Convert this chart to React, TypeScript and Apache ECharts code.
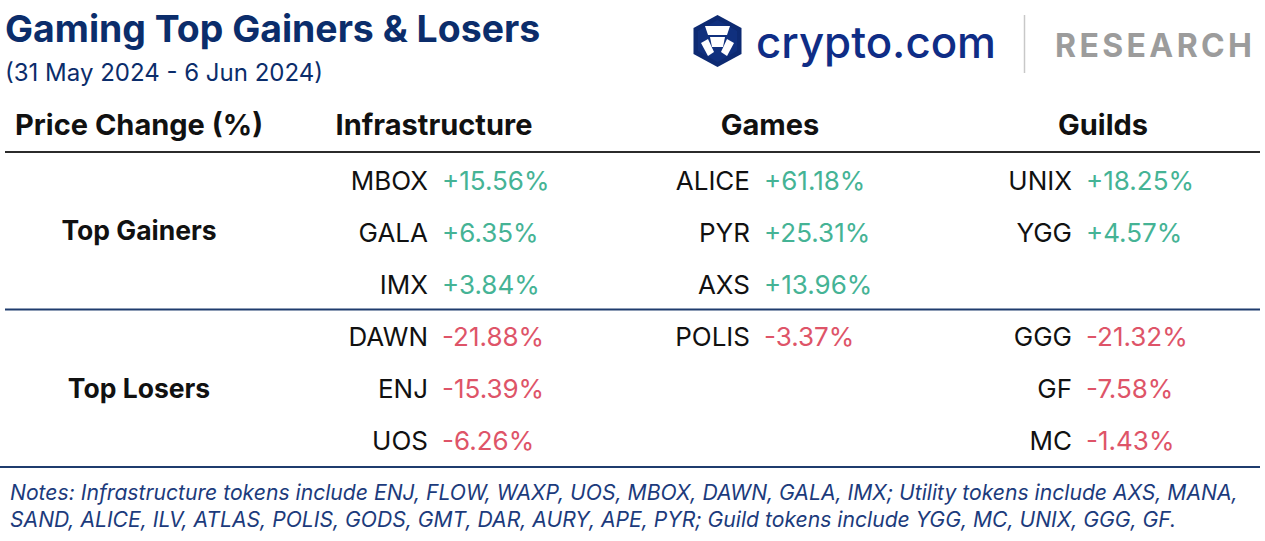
import React, { useEffect, useRef } from "react";
import * as echarts from "echarts";

// ---- data ----
const title = "Gaming Top Gainers & Losers";
const subtitle = "(31 May 2024 - 6 Jun 2024)";
const cornerHeader = "Price Change (%)";
const columns = ["Infrastructure", "Games", "Guilds"];
const groups = ["Top Gainers", "Top Losers"];
const gainerTickers = [
  ["MBOX", "GALA", "IMX"],
  ["ALICE", "PYR", "AXS"],
  ["UNIX", "YGG"],
];
const gainerValues = [
  [15.56, 6.35, 3.84],
  [61.18, 25.31, 13.96],
  [18.25, 4.57],
];
const loserTickers = [
  ["DAWN", "ENJ", "UOS"],
  ["POLIS"],
  ["GGG", "GF", "MC"],
];
const loserValues = [
  [-21.88, -15.39, -6.26],
  [-3.37],
  [-21.32, -7.58, -1.43],
];
const rowSlots = ["1", "2", "3", "4", "5", "6"];
const notes = [
  "Notes: Infrastructure tokens include ENJ, FLOW, WAXP, UOS, MBOX, DAWN, GALA, IMX; Utility tokens include AXS, MANA,",
  "SAND, ALICE, ILV, ATLAS, POLIS, GODS, GMT, DAR, AURY, APE, PYR; Guild tokens include YGG, MC, UNIX, GGG, GF.",
];
const brand = "crypto.com";
const research = "RESEARCH";

// ---- styles ----
const FONT = "Inter, 'Noto Sans', sans-serif";
const NAVY = "#0b2d6b";
const GREEN = "#45b395";
const RED = "#de5468";
const LINE_NAVY = "#1f3c6e";

function fmt(v: number) {
  return (v > 0 ? "+" : "") + v.toFixed(2) + "%";
}

// spread letters across a target width (letter-spacing substitute)
function spacedLetters(text: string, x0: number, x1: number, y: number, font: string, style: any) {
  const ctx = document.createElement("canvas").getContext("2d") as CanvasRenderingContext2D;
  ctx.font = font;
  const widths = text.split("").map((ch) => ctx.measureText(ch).width);
  const sum = widths.reduce((a, b) => a + b, 0);
  const gap = (x1 - x0 - sum) / (text.length - 1);
  let x = x0;
  return text.split("").map((ch, i) => {
    const el = { type: "text", x, y, style: { ...style, text: ch, align: "left", verticalAlign: "middle" } };
    x += widths[i] + gap;
    return el;
  });
}

export default function App() {
  const ref = useRef<HTMLDivElement>(null);
  useEffect(() => {
    if (!ref.current) return;
    const chart = echarts.init(ref.current, null, { renderer: "svg" });

    const cells: any[] = [];
    columns.forEach((_, c) => {
      gainerTickers[c].forEach((t, i) => {
        cells.push({ value: [c, i], ticker: t, pct: gainerValues[c][i] });
      });
      loserTickers[c].forEach((t, i) => {
        cells.push({ value: [c, i + 3], ticker: t, pct: loserValues[c][i] });
      });
    });

    const headerCenters = [434, 770, 1103];
    const groupY = [230, 388];

    const graphic: any[] = [
      {
        type: "text",
        x: 5,
        y: 28,
        style: { text: title, fill: NAVY, fontFamily: FONT, fontWeight: 700, fontSize: 37.4, verticalAlign: "middle", align: "left" },
      },
      {
        type: "text",
        x: 5,
        y: 72,
        style: { text: subtitle, fill: NAVY, fontFamily: FONT, fontWeight: 400, fontSize: 24, verticalAlign: "middle", align: "left" },
      },
      // logo hexagon
      {
        type: "polygon",
        shape: { points: [[717.5, 15], [741.5, 28], [741.5, 54], [717.5, 67], [693.5, 54], [693.5, 28]] },
        style: { fill: "#0d2a72" },
      },
      {
        type: "polygon",
        shape: { points: [[717.5, 20], [737, 31], [737, 51], [717.5, 62], [698, 51], [698, 31]] },
        style: { fill: "#10307e" },
      },
      {
        type: "polygon",
        shape: { points: [[705, 26], [730, 26], [727, 35], [708, 35]] },
        style: { fill: "#ffffff" },
      },
      {
        type: "polygon",
        shape: { points: [[710, 37], [725, 37], [723, 47], [712, 47]] },
        style: { fill: "#ffffff" },
      },
      {
        type: "polygon",
        shape: { points: [[701, 43], [708, 39], [714, 52], [708, 56]] },
        style: { fill: "#ffffff" },
      },
      {
        type: "polygon",
        shape: { points: [[734, 43], [727, 39], [721, 52], [727, 56]] },
        style: { fill: "#ffffff" },
      },
      {
        type: "text",
        x: 756,
        y: 42,
        style: { text: brand, fill: "#0f2d86", fontFamily: FONT, fontWeight: 500, fontSize: 43.8, verticalAlign: "middle", align: "left" },
      },
      {
        type: "line",
        shape: { x1: 1024.5, y1: 15, x2: 1024.5, y2: 73 },
        style: { stroke: "#c8c8c8", lineWidth: 1.5 },
      },
      ...spacedLetters(research, 1055, 1252, 45, "700 32px Inter", {
        fill: "#9c9c9c",
        fontFamily: FONT,
        fontWeight: 700,
        fontSize: 32,
      }),
      // header row
      {
        type: "text",
        x: 15,
        y: 124,
        style: { text: cornerHeader, fill: "#111111", fontFamily: FONT, fontWeight: 700, fontSize: 29, verticalAlign: "middle", align: "left" },
      },
      ...columns.map((c, i) => ({
        type: "text",
        x: headerCenters[i],
        y: 124,
        style: { text: c, fill: "#111111", fontFamily: FONT, fontWeight: 700, fontSize: 29, verticalAlign: "middle", align: "center" },
      })),
      ...groups.map((g, i) => ({
        type: "text",
        x: 139,
        y: groupY[i],
        style: { text: g, fill: "#111111", fontFamily: FONT, fontWeight: 700, fontSize: 26.5, verticalAlign: "middle", align: "center" },
      })),
      {
        type: "line",
        shape: { x1: 5, y1: 152, x2: 1260, y2: 152 },
        style: { stroke: "#2b2b2b", lineWidth: 2 },
      },
      {
        type: "line",
        shape: { x1: 5, y1: 309.5, x2: 1260, y2: 309.5 },
        style: { stroke: LINE_NAVY, lineWidth: 2 },
      },
      {
        type: "line",
        shape: { x1: 0, y1: 467, x2: 1260, y2: 467 },
        style: { stroke: LINE_NAVY, lineWidth: 2 },
      },
      ...notes.map((n, i) => ({
        type: "text",
        x: 10,
        y: 492 + i * 27,
        style: { text: n, fill: "#1c3b7c", fontFamily: FONT, fontStyle: "italic", fontWeight: 400, fontSize: 21.15, verticalAlign: "middle", align: "left" },
      })),
    ];

    chart.setOption({
      animation: false,
      backgroundColor: "#ffffff",
      grid: { left: 267, width: 966, top: 154, height: 313 },
      xAxis: { type: "category", data: columns, show: false },
      yAxis: { type: "category", data: rowSlots, inverse: true, show: false },
      graphic,
      series: [
        {
          type: "custom",
          data: cells,
          renderItem: (params: any, api: any) => {
            const cell = cells[params.dataIndex];
            const p = api.coord([api.value(0), api.value(1)]);
            return {
              type: "group",
              children: [
                {
                  type: "text",
                  x: p[0],
                  y: p[1],
                  style: { text: cell.ticker, fill: "#111111", fontFamily: FONT, fontSize: 26, fontWeight: 400, align: "right", verticalAlign: "middle" },
                },
                {
                  type: "text",
                  x: p[0] + 14,
                  y: p[1],
                  style: { text: fmt(cell.pct), fill: cell.pct >= 0 ? GREEN : RED, fontFamily: FONT, fontSize: 26, fontWeight: 400, align: "left", verticalAlign: "middle" },
                },
              ],
            };
          },
        },
      ],
    });
    return () => chart.dispose();
  }, []);
  return (
    <div
      ref={ref}
      style={{ position: "fixed", left: 0, top: 0, width: 1265, height: 541, background: "#fff" }}
    />
  );
}
